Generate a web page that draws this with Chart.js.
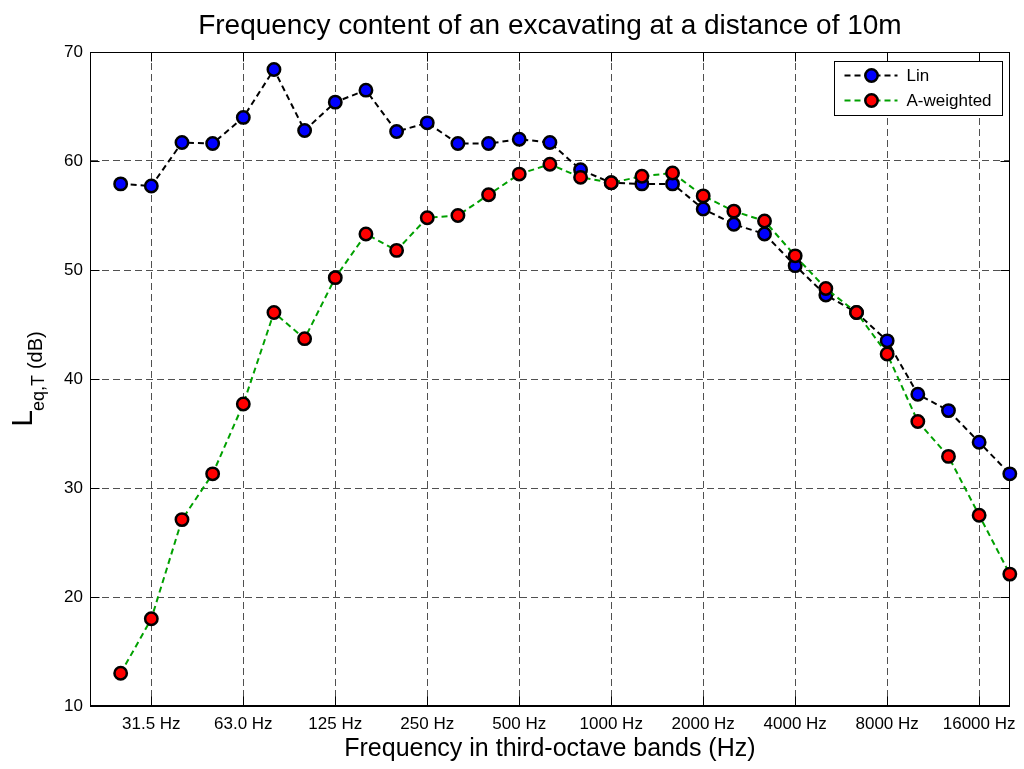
<!DOCTYPE html>
<html>
<head>
<meta charset="utf-8">
<title>Frequency content of an excavating at a distance of 10m</title>
<script src="https://cdn.jsdelivr.net/npm/chart.js@4.4.1/dist/chart.umd.min.js"></script>
<style>
  html, body { margin: 0; padding: 0; background: #fff; }
  #wrap { width: 1024px; height: 769px; }
</style>
</head>
<body>
<div id="wrap"><canvas id="espectro" width="1024" height="769"></canvas></div>
<script>
// third-octave band centres (Hz), 25 Hz .. 20 kHz
const bands = ['25', '31.5', '40', '50', '63', '80', '100', '125', '160', '200',
    '250', '315', '400', '500', '630', '800', '1000', '1250', '1600', '2000',
    '2500', '3150', '4000', '5000', '6300', '8000', '10000', '12500', '16000', '20000'];

// Leq,T per band (dB)
const levelsLin = [57.9, 57.7, 61.7, 61.6, 64.0, 68.4, 62.8, 65.4, 66.5, 62.7,
    63.5, 61.6, 61.6, 62.0, 61.7, 59.2, 58.0, 57.9, 57.9, 55.6,
    54.2, 53.3, 50.4, 47.7, 46.1, 43.5, 38.6, 37.1, 34.2, 31.3];
const levelsA = [13.0, 18.0, 27.1, 31.3, 37.7, 46.1, 43.7, 49.3, 53.3, 51.8,
    54.8, 55.0, 56.9, 58.8, 59.7, 58.5, 58.0, 58.6, 58.9, 56.8,
    55.4, 54.5, 51.3, 48.3, 46.1, 42.3, 36.1, 32.9, 27.5, 22.1];

// only every third band gets a tick
const tickBands = [1, 4, 7, 10, 13, 16, 19, 22, 25, 28];
const tickLabels = ['31.5 Hz', '63.0 Hz', '125 Hz', '250 Hz', '500 Hz',
    '1000 Hz', '2000 Hz', '4000 Hz', '8000 Hz', '16000 Hz'];

const yTicks = [10, 20, 30, 40, 50, 60, 70];

document.addEventListener("DOMContentLoaded", function () {
    const FONT = 'Liberation Sans, Arial, Helvetica, sans-serif';
    const ctx = document.getElementById('espectro').getContext('2d');

    Chart.defaults.font.family = FONT;
    Chart.defaults.color = '#000';

    // box around the axes with inward tick marks
    const axesBox = {
        id: 'axesBox',
        beforeDatasetsDraw(chart) {
            const { ctx, chartArea: a, scales: { x, y } } = chart;
            const L = Math.round(a.left) + 0.5, R = Math.round(a.right) - 0.5;
            const T = Math.round(a.top) + 0.5, B = Math.round(a.bottom) - 0.5;
            ctx.save();
            ctx.strokeStyle = '#000';
            ctx.lineWidth = 1;
            ctx.beginPath();
            x.ticks.forEach(t => {
                const px = Math.round(x.getPixelForValue(t.value)) + 0.5;
                ctx.moveTo(px, B); ctx.lineTo(px, B - 9);
                ctx.moveTo(px, T); ctx.lineTo(px, T + 9);
            });
            y.ticks.forEach(t => {
                const py = Math.round(y.getPixelForValue(t.value)) + 0.5;
                ctx.moveTo(L, py); ctx.lineTo(L + 9, py);
                ctx.moveTo(R, py); ctx.lineTo(R - 9, py);
            });
            ctx.stroke();
            ctx.strokeRect(L, T, R - L, B - T);
            ctx.restore();
        }
    };

    // y label with subscript: L_eq,T (dB)
    const yLabel = {
        id: 'yLabel',
        afterDraw(chart) {
            const { ctx, chartArea: a } = chart;
            ctx.save();
            ctx.fillStyle = '#000';
            ctx.textBaseline = 'alphabetic';
            ctx.font = '30px ' + FONT;
            const wL = ctx.measureText('L').width - 1;
            ctx.font = '18px ' + FONT;
            const wSub = ctx.measureText('eq,T').width + 6;
            ctx.font = '20px ' + FONT;
            const wUnit = ctx.measureText('(dB)').width;
            const total = wL + wSub + wUnit;
            const mid = (a.top + a.bottom) / 2;

            ctx.translate(32, mid + total / 2);
            ctx.rotate(-Math.PI / 2);
            ctx.font = '30px ' + FONT;
            ctx.fillText('L', 0, 0);
            ctx.font = '18px ' + FONT;
            ctx.fillText('eq,T', wL, 12);
            ctx.font = '20px ' + FONT;
            ctx.fillText('(dB)', wL + wSub, 10);
            ctx.restore();
        }
    };

    // legend: dashed line with marker, like the plotted series
    const lineLegend = {
        id: 'lineLegend',
        afterDraw(chart) {
            const { ctx, chartArea: a } = chart;
            const sets = [chart.data.datasets[0], chart.data.datasets[1]];
            const w = 168, h = 54;
            const left = Math.round(a.right) - 8 - w + 0.5;
            const top = Math.round(a.top) + 9 + 0.5;
            ctx.save();
            ctx.fillStyle = '#fff';
            ctx.fillRect(left, top, w, h);
            ctx.strokeStyle = '#000';
            ctx.lineWidth = 1;
            ctx.strokeRect(left, top, w, h);
            ctx.font = '17px ' + FONT;
            ctx.textBaseline = 'middle';
            sets.forEach((ds, i) => {
                const cy = top + 14 + i * 25;
                ctx.save();
                ctx.strokeStyle = ds.borderColor;
                ctx.lineWidth = ds.borderWidth;
                ctx.setLineDash(ds.borderDash);
                ctx.beginPath();
                ctx.moveTo(left + 10, cy);
                ctx.lineTo(left + 63, cy);
                ctx.stroke();
                ctx.restore();
                ctx.beginPath();
                ctx.arc(left + 37, cy, ds.pointRadius, 0, Math.PI * 2);
                ctx.fillStyle = ds.pointBackgroundColor;
                ctx.fill();
                ctx.lineWidth = ds.pointBorderWidth;
                ctx.strokeStyle = ds.pointBorderColor;
                ctx.stroke();
                ctx.fillStyle = '#000';
                ctx.fillText(ds.label, left + 72, cy + 1);
            });
            ctx.restore();
        }
    };

    const grid = { color: '#505050', lineWidth: 1, drawTicks: false };
    const border = { display: true, color: '#000', width: 1, dash: [7, 4] };

    new Chart(ctx, {
        type: 'line',
        data: {
            datasets: [{
                label: 'Lin',
                data: levelsLin.map((v, i) => ({ x: i, y: v })),
                borderColor: '#000',
                borderWidth: 2,
                borderDash: [6, 4],
                backgroundColor: '#0000ff',
                pointBackgroundColor: '#0000ff',
                pointBorderColor: '#000',
                pointBorderWidth: 2.5,
                pointRadius: 6.2,
                tension: 0,
                clip: false,
                order: 1
            }, {
                label: 'A-weighted',
                data: levelsA.map((v, i) => ({ x: i, y: v })),
                borderColor: '#00a000',
                borderWidth: 2,
                borderDash: [6, 4],
                backgroundColor: '#ff0000',
                pointBackgroundColor: '#ff0000',
                pointBorderColor: '#000',
                pointBorderWidth: 2.5,
                pointRadius: 6.2,
                tension: 0,
                clip: false,
                order: 0
            }]
        },
        options: {
            responsive: false,
            animation: false,
            events: [],
            layout: { padding: { left: 0, right: 11, top: 0, bottom: 0 } },
            plugins: {
                legend: { display: false },
                tooltip: { enabled: false },
                title: {
                    display: true,
                    text: 'Frequency content of an excavating at a distance of 10m',
                    fullSize: false,
                    color: '#000',
                    font: { size: 28, weight: 'normal' },
                    padding: { top: 9, bottom: 9.4 }
                }
            },
            scales: {
                x: {
                    type: 'linear',
                    min: -1,
                    max: 29,
                    afterBuildTicks: s => { s.ticks = tickBands.map(v => ({ value: v })); },
                    afterFit: s => { s.height = 63; },
                    ticks: {
                        autoSkip: false,
                        maxRotation: 0,
                        padding: 8,
                        color: '#000',
                        font: { size: 17 },
                        callback: v => {
                            const k = tickBands.indexOf(v);
                            return k >= 0 ? tickLabels[k] : '';
                        }
                    },
                    grid: grid,
                    border: border,
                    title: {
                        display: true,
                        text: 'Frequency in third-octave bands (Hz)',
                        color: '#000',
                        font: { size: 25 },
                        padding: { top: 0, bottom: 5 }
                    }
                },
                y: {
                    min: 10,
                    max: 70,
                    afterBuildTicks: s => { s.ticks = yTicks.map(v => ({ value: v })); },
                    afterFit: s => { s.width = 90; },
                    ticks: { padding: 7, color: '#000', font: { size: 17 } },
                    grid: grid,
                    border: border
                }
            }
        },
        plugins: [axesBox, yLabel, lineLegend]
    });
});
</script>
</body>
</html>
